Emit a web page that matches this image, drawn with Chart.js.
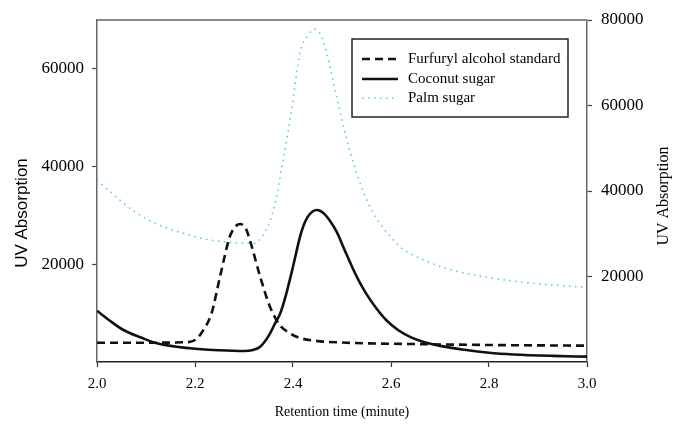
<!DOCTYPE html>
<html>
<head>
<meta charset="utf-8">
<script src="https://cdn.jsdelivr.net/npm/chart.js@4/dist/chart.umd.min.js"></script>
<style>
  html, body { margin: 0; padding: 0; background: #fff; }
  #wrap { width: 673px; height: 424px; }
</style>
</head>
<body>
<div id="wrap"><canvas id="c" width="673" height="424"></canvas></div>
<script>
// ---- data ----
const seriesNames = ['Furfuryl alcohol standard', 'Coconut sugar', 'Palm sugar'];

const furfurylTimes  = [2.0, 2.1, 2.18, 2.2, 2.212, 2.234, 2.251, 2.271, 2.28, 2.287, 2.292, 2.297, 2.304, 2.312, 2.333, 2.353, 2.373, 2.392, 2.41, 2.441, 2.51, 2.645, 2.8, 3.0];
const furfurylValues = [3950, 3950, 4050, 4500, 5800, 10030, 17460, 25650, 27400, 28100, 28250, 28100, 27300, 24970, 17460, 11320, 7570, 6000, 5050, 4400, 3950, 3680, 3480, 3340];

const coconutTimes  = [2.0, 2.027, 2.054, 2.09, 2.122, 2.19, 2.25, 2.3, 2.318, 2.333, 2.35, 2.367, 2.373, 2.385, 2.4, 2.414, 2.421, 2.43, 2.44, 2.448, 2.456, 2.465, 2.476, 2.489, 2.505, 2.52, 2.535, 2.55, 2.57, 2.59, 2.615, 2.64, 2.665, 2.7, 2.75, 2.8, 2.85, 2.93, 3.0];
const coconutValues = [10500, 8400, 6550, 5000, 3820, 2800, 2400, 2250, 2450, 3130, 5300, 8600, 9700, 13500, 19500, 25500, 27800, 29700, 30800, 31100, 30900, 30200, 28800, 26670, 23000, 19600, 16500, 13900, 11000, 8600, 6500, 5100, 4150, 3300, 2500, 1900, 1550, 1250, 1090];

const palmTimes  = [2.0, 2.027, 2.074, 2.122, 2.176, 2.224, 2.271, 2.319, 2.339, 2.36, 2.378, 2.397, 2.414, 2.43, 2.445, 2.458, 2.469, 2.489, 2.51, 2.537, 2.564, 2.605, 2.618, 2.659, 2.72, 2.788, 2.89, 3.0];
const palmValues = [42570, 39830, 35390, 32280, 30100, 28700, 28000, 27760, 29700, 35550, 46000, 58940, 72200, 76300, 77820, 76300, 72200, 62050, 51930, 41800, 34780, 28540, 26970, 24250, 21680, 19950, 18410, 17470];

const xTickValues = [2.0, 2.2, 2.4, 2.6, 2.8, 3.0];
const leftTickValues = [20000, 40000, 60000];
const rightTickValues = [20000, 40000, 60000, 80000];

const xTitle = 'Retention time (minute)';
const yTitle = 'UV Absorption';

// ---- build ----
const toPts = (ts, vs) => ts.map((t, i) => ({ x: t, y: vs[i] }));
const SERIF = 'Liberation Serif';
const SANS = 'Liberation Sans';
const palmColor = 'rgba(80,205,195,0.9)';

Chart.defaults.font.family = SERIF;
Chart.defaults.color = '#000';

const datasets = [
  { label: seriesNames[0], data: toPts(furfurylTimes, furfurylValues), yAxisID: 'y',
    borderColor: '#111', borderWidth: 2.6, borderDash: [8, 5], pointRadius: 0,
    cubicInterpolationMode: 'monotone', fill: false },
  { label: seriesNames[1], data: toPts(coconutTimes, coconutValues), yAxisID: 'y',
    borderColor: '#111', borderWidth: 2.6, pointRadius: 0,
    cubicInterpolationMode: 'monotone', fill: false },
  { label: seriesNames[2], data: toPts(palmTimes, palmValues), yAxisID: 'y2',
    borderColor: palmColor, borderWidth: 1.6, borderDash: [1.6, 4.4], pointRadius: 0,
    cubicInterpolationMode: 'monotone', fill: false }
];

const deco = {
  id: 'deco',
  afterDraw(chart) {
    const ctx = chart.ctx;
    const a = chart.chartArea;
    ctx.save();
    // top frame line
    ctx.strokeStyle = '#888';
    ctx.lineWidth = 2;
    ctx.beginPath();
    ctx.moveTo(a.left, a.top);
    ctx.lineTo(a.right, a.top);
    ctx.stroke();

    // y axis titles
    ctx.fillStyle = '#000';
    ctx.textAlign = 'center';
    ctx.textBaseline = 'middle';
    ctx.font = '17px "' + SANS + '"';
    ctx.save();
    ctx.translate(22, 213);
    ctx.rotate(-Math.PI / 2);
    ctx.fillText(yTitle, 0, 0);
    ctx.restore();
    ctx.font = '16px "' + SERIF + '"';
    ctx.save();
    ctx.translate(664, 196);
    ctx.rotate(-Math.PI / 2);
    ctx.fillText(yTitle, 0, 0);
    ctx.restore();

    // legend box
    const bx = 352, by = 39, bw = 216, bh = 78;
    ctx.strokeStyle = '#222';
    ctx.lineWidth = 1.5;
    ctx.strokeRect(bx, by, bw, bh);
    const rows = [59, 79, 98];
    chart.data.datasets.forEach((ds, i) => {
      const y = rows[i];
      ctx.save();
      ctx.strokeStyle = ds.borderColor;
      ctx.lineWidth = ds.borderWidth;
      ctx.setLineDash(ds.borderDash || []);
      ctx.beginPath();
      ctx.moveTo(362, y);
      ctx.lineTo(398, y);
      ctx.stroke();
      ctx.restore();
      ctx.fillStyle = '#000';
      ctx.textAlign = 'left';
      ctx.textBaseline = 'middle';
      ctx.font = '15px "' + SERIF + '"';
      ctx.fillText(ds.label, 408, y);
    });
    ctx.restore();
  }
};

new Chart(document.getElementById('c'), {
  type: 'line',
  data: { datasets },
  options: {
    responsive: false,
    animation: false,
    layout: { padding: { top: 20, left: 0, right: 0, bottom: 0 } },
    plugins: { legend: { display: false }, tooltip: { enabled: false } },
    scales: {
      x: {
        type: 'linear', min: 2.0, max: 3.0,
        afterBuildTicks: s => { s.ticks = xTickValues.map(v => ({ value: v })); },
        afterFit: s => { s.height = 62; },
        ticks: { callback: v => Number(v).toFixed(1), font: { size: 15 }, padding: 8, maxRotation: 0, color: '#000' },
        grid: { drawOnChartArea: false, drawTicks: true, tickLength: 5, color: '#333', tickWidth: 1.2 },
        border: { display: true, color: '#222', width: 1.5 },
        title: { display: true, text: xTitle, font: { size: 14 }, color: '#000', padding: { top: 0, bottom: 3 } }
      },
      y: {
        type: 'linear', position: 'left', min: 0, max: 70000,
        afterBuildTicks: s => { s.ticks = leftTickValues.map(v => ({ value: v })); },
        afterFit: s => { s.width = 97; },
        ticks: { font: { size: 17 }, padding: 8, color: '#000', callback: v => String(v) },
        grid: { drawOnChartArea: false, drawTicks: true, tickLength: 5, color: '#444', tickWidth: 1.2 },
        border: { display: true, color: '#666', width: 1.5 }
      },
      y2: {
        type: 'linear', position: 'right', min: 0, max: 80000,
        afterBuildTicks: s => { s.ticks = rightTickValues.map(v => ({ value: v })); },
        afterFit: s => { s.width = 86; },
        ticks: { font: { size: 17 }, padding: 9, color: '#000', callback: v => String(v) },
        grid: { drawOnChartArea: false, drawTicks: true, tickLength: 5, color: '#444', tickWidth: 1.2 },
        border: { display: true, color: '#666', width: 1.5 }
      }
    }
  },
  plugins: [deco]
});
</script>
</body>
</html>
